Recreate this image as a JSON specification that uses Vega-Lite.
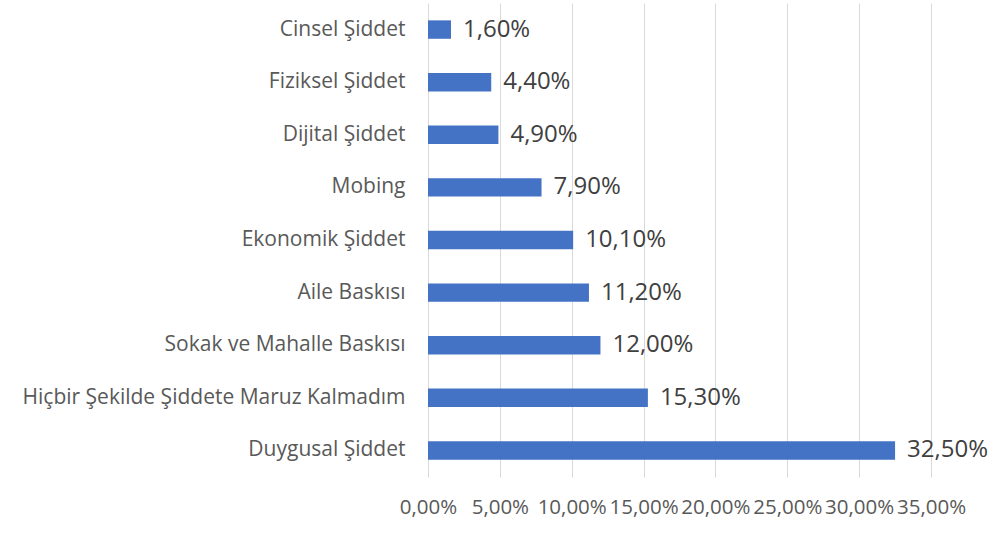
{
  "$schema": "https://vega.github.io/schema/vega-lite/v6.json",
  "width": 503,
  "height": 474,
  "autosize": {"type": "none"},
  "padding": {"left": 428, "top": 3, "right": 64, "bottom": 66},
  "background": "white",
  "config": {
    "locale": {"number": {"decimal": ",", "thousands": ".", "grouping": [3], "currency": ["", " ₺"]}},
    "view": {"stroke": null},
    "font": "Open Sans"
  },
  "data": {
    "values": [
      {"kategori": "Cinsel Şiddet", "oran": 0.016},
      {"kategori": "Fiziksel Şiddet", "oran": 0.044},
      {"kategori": "Dijital Şiddet", "oran": 0.049},
      {"kategori": "Mobing", "oran": 0.079},
      {"kategori": "Ekonomik Şiddet", "oran": 0.101},
      {"kategori": "Aile Baskısı", "oran": 0.112},
      {"kategori": "Sokak ve Mahalle Baskısı", "oran": 0.12},
      {"kategori": "Hiçbir Şekilde Şiddete Maruz Kalmadım", "oran": 0.153},
      {"kategori": "Duygusal Şiddet", "oran": 0.325}
    ]
  },
  "encoding": {
    "y": {
      "field": "kategori",
      "type": "nominal",
      "sort": null,
      "scale": {"paddingInner": 0.65, "paddingOuter": 0.33},
      "axis": {
        "title": null,
        "domain": false,
        "ticks": false,
        "labelPadding": 23,
        "labelFont": "Open Sans",
        "labelFontSize": 21,
        "labelColor": "#595959",
        "labelLimit": 500
      }
    },
    "x": {
      "field": "oran",
      "type": "quantitative",
      "scale": {"domain": [0, 0.35], "nice": false},
      "axis": {
        "title": null,
        "format": ".2%",
        "values": [0, 0.05, 0.1, 0.15, 0.2, 0.25, 0.3, 0.35],
        "domain": false,
        "ticks": false,
        "grid": true,
        "gridColor": "#d9d9d9",
        "gridWidth": 1,
        "labelPadding": 20,
        "labelFont": "Open Sans",
        "labelFontSize": 20.5,
        "labelColor": "#595959",
        "labelOverlap": false,
        "labelFlush": false
      }
    }
  },
  "layer": [
    {"mark": {"type": "bar", "color": "#4472C4"}},
    {
      "mark": {"type": "text", "align": "left", "baseline": "middle", "dx": 12, "fontSize": 24, "font": "Open Sans", "color": "#404040"},
      "encoding": {"text": {"field": "oran", "type": "quantitative", "format": ".2%"}}
    }
  ]
}
